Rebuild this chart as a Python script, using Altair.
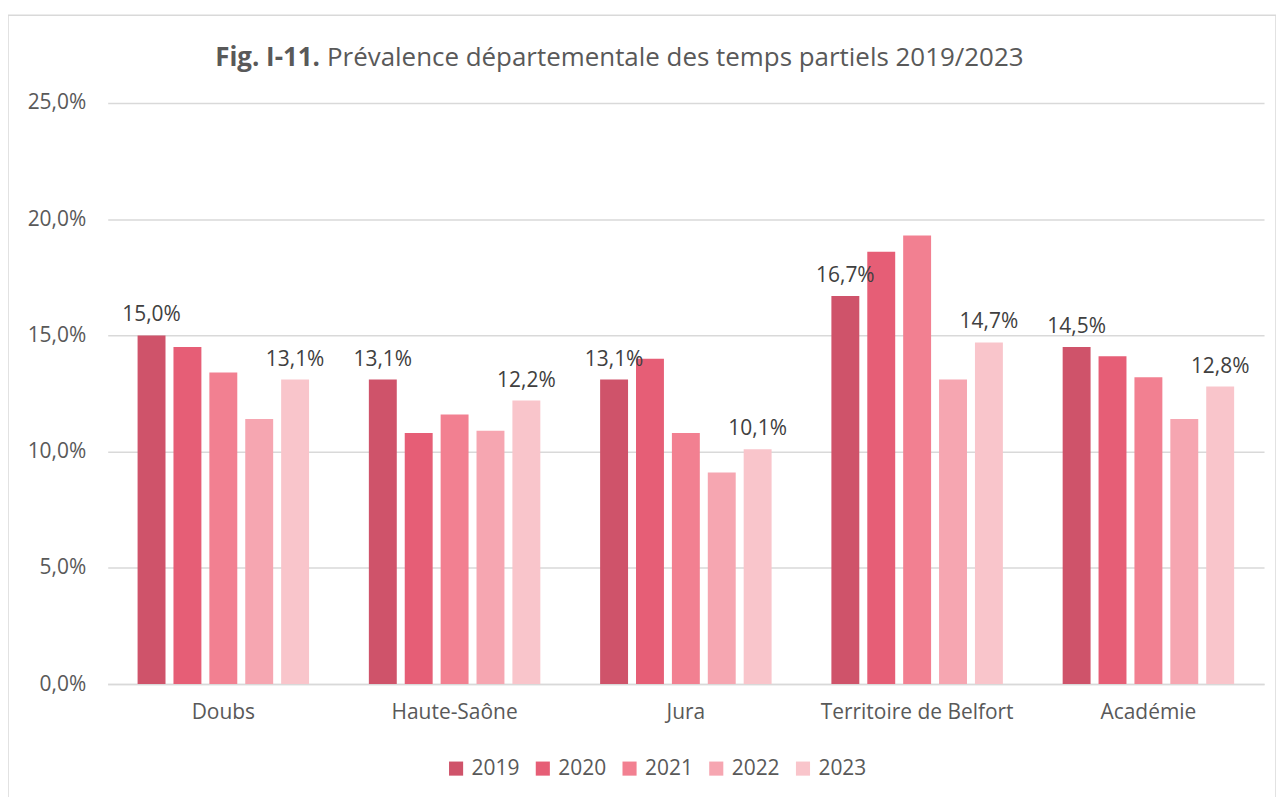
import altair as alt
import pandas as pd

depts = ["Doubs", "Haute-Saône", "Jura", "Territoire de Belfort", "Académie"]
years = ["2019", "2020", "2021", "2022", "2023"]
v2019 = [15.0, 13.1, 13.1, 16.7, 14.5]
v2020 = [14.5, 10.8, 14.0, 18.6, 14.1]
v2021 = [13.4, 11.6, 10.8, 19.3, 13.2]
v2022 = [11.4, 10.9, 9.1, 13.1, 11.4]
v2023 = [13.1, 12.2, 10.1, 14.7, 12.8]
colors = ["#CF536A", "#E65E76", "#F28091", "#F6A6B1", "#F9C5CB"]
labelled_years = ["2019", "2023"]
title_bold = "Fig. I-11."
title_rest = "Prévalence départementale des temps partiels 2019/2023"

series = [v2019, v2020, v2021, v2022, v2023]
rows = []
for y, vals in zip(years, series):
    for d, v in zip(depts, vals):
        rows.append({"dept": d, "year": y, "value": v / 100})
df = pd.DataFrame(rows)

FONT = "Open Sans"
GREY = "#595959"
FS = 21

x = alt.X("dept:N", sort=depts, title=None,
          scale=alt.Scale(paddingInner=0, paddingOuter=0),
          axis=alt.Axis(labelAngle=0, labelFontSize=FS, labelColor=GREY, labelFont=FONT,
                        labelLimit=400,
                        ticks=False, domainColor="#D9D9D9", domainWidth=1.5, labelPadding=17))
xo = alt.XOffset("year:N", sort=years,
                 scale=alt.Scale(paddingInner=0.222, paddingOuter=0.833))
y = alt.Y("value:Q", title=None,
          scale=alt.Scale(domain=[0, 0.25]),
          axis=alt.Axis(values=[0, 0.05, 0.10, 0.15, 0.20, 0.25],
                        labelExpr="replace(format(datum.value, '.1%'), '.', ',')",
                        labelFontSize=FS, labelColor=GREY, labelFont=FONT,
                        ticks=False, domain=False, labelPadding=22,
                        gridColor="#D9D9D9", gridWidth=1.5))

base = alt.Chart(df)
bars = base.mark_bar().encode(
    x=x, xOffset=xo, y=y,
    color=alt.Color("year:N", sort=years,
                    scale=alt.Scale(domain=years, range=colors),
                    legend=alt.Legend(title=None, orient="none", direction="horizontal",
                                      legendX=339, legendY=657,
                                      symbolType="square", symbolSize=200,
                                      symbolStrokeWidth=0,
                                      labelFontSize=FS, labelColor=GREY, labelFont=FONT,
                                      columnPadding=12, labelOffset=5)),
)

labels = base.transform_filter(
    alt.FieldOneOfPredicate(field="year", oneOf=labelled_years)
).transform_calculate(
    lab="replace(format(datum.value, '.1%'), '.', ',')"
).mark_text(baseline="bottom", dy=-10, fontSize=FS, font=FONT, color="#404040").encode(
    x=x, xOffset=xo, y=y, text="lab:N"
)

t1 = alt.Chart(pd.DataFrame({"t": [title_bold]})).mark_text(
    align="right", baseline="middle", fontSize=26, fontWeight="bold", font=FONT, color=GREY
).encode(text="t:N", x=alt.value(213), y=alt.value(-45))
t2 = alt.Chart(pd.DataFrame({"t": [title_rest]})).mark_text(
    align="left", baseline="middle", fontSize=26, font=FONT, color=GREY
).encode(text="t:N", x=alt.value(220), y=alt.value(-45))

frame = alt.Chart(pd.DataFrame({"a": [0]})).mark_rect(
    fillOpacity=0, stroke="#D9D9D9", strokeWidth=1.5
).encode(x=alt.value(-100), x2=alt.value(1172), y=alt.value(-88), y2=alt.value(720))

chart = alt.layer(frame, bars, labels, t1, t2).properties(
    width=1160, height=583,
    autosize=alt.AutoSizeParams(type="none"),
    padding={"left": 100, "top": 94, "right": 12, "bottom": 112},
).configure_view(stroke=None)

chart.save("out.html", embed_options={"renderer": "svg", "actions": False})
